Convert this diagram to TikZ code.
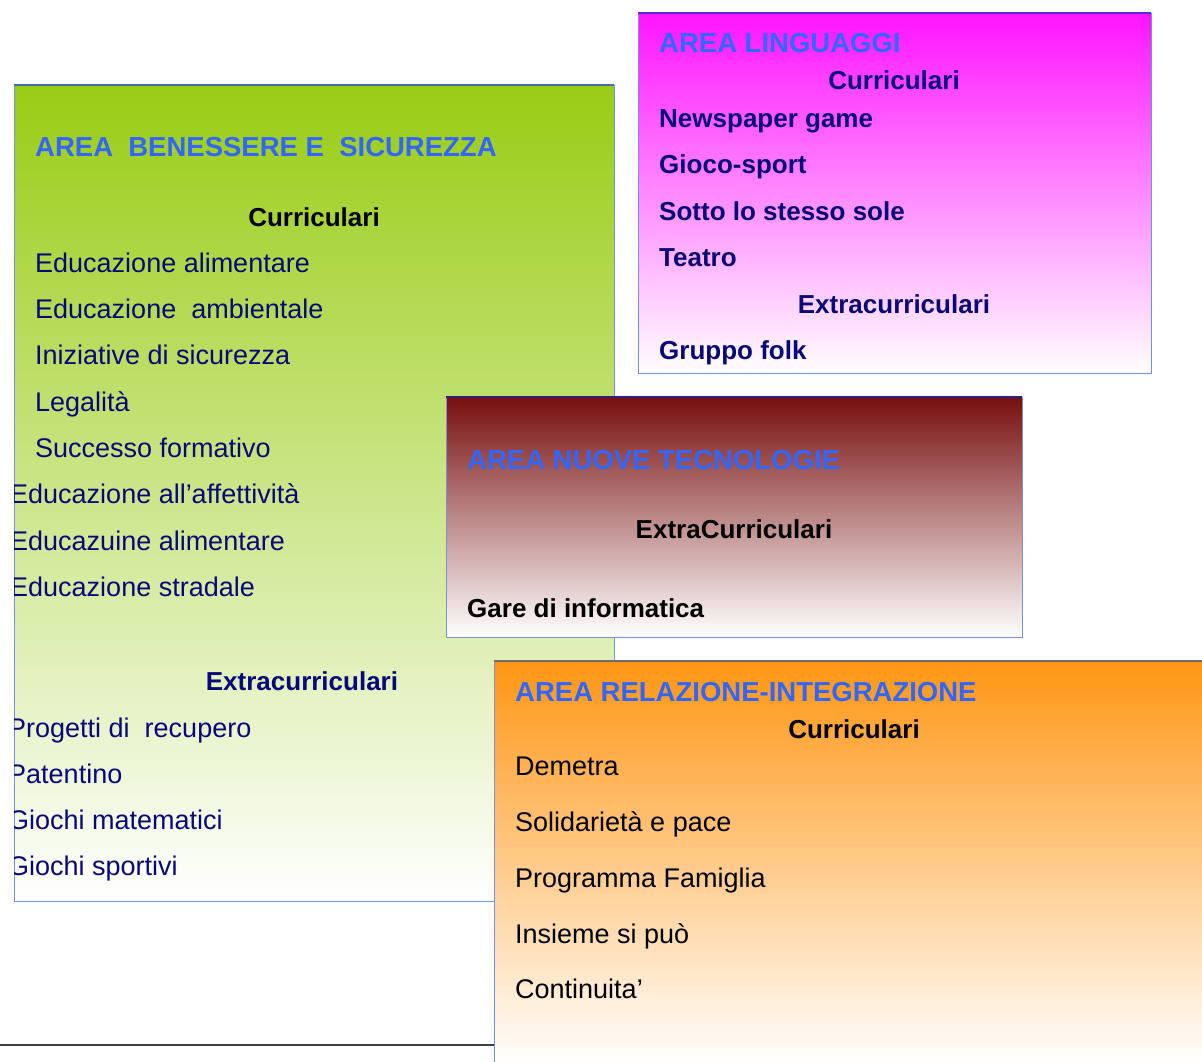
\documentclass[tikz,border=0pt]{standalone}
\usepackage{fontspec}
\setmainfont{Liberation Sans}
\definecolor{titleblue}{RGB}{51,102,255}
\definecolor{navy}{RGB}{8,8,120}
\definecolor{edgeblue}{RGB}{115,145,220}
\definecolor{greentop}{RGB}{153,204,20}
\definecolor{greenmid}{RGB}{212,233,175}
\definecolor{greenedge}{RGB}{70,110,165}
\definecolor{magtop}{RGB}{255,20,255}
\definecolor{magmid}{RGB}{255,155,255}
\definecolor{magedge}{RGB}{90,40,235}
\definecolor{redtop}{RGB}{120,16,16}
\definecolor{redmid}{RGB}{212,195,195}
\definecolor{rededge}{RGB}{50,30,130}
\definecolor{orangetop}{RGB}{255,150,20}
\definecolor{orangemid}{RGB}{255,212,182}
\definecolor{orangeedge}{RGB}{115,105,115}
\begin{document}
\begin{tikzpicture}[x=1pt,y=-1pt,
  panel/.style={draw=edgeblue, line width=0.9pt},
  topedge/.style={line width=1.1pt},
  areatitle/.style={anchor=base west, inner sep=0pt, text=titleblue,
    font=\fontsize{27.5}{30}\selectfont\bfseries},
  heading/.style={anchor=base, inner sep=0pt, font=\fontsize{26}{30}\selectfont\bfseries},
  item/.style={anchor=base west, inner sep=0pt, font=\fontsize{27}{30}\selectfont},
  bolditem/.style={anchor=base west, inner sep=0pt, font=\fontsize{26}{30}\selectfont\bfseries}
]
\useasboundingbox (0,0) rectangle (1202,1062);
\clip (0,0) rectangle (1202,1062);

% --- Area benessere e sicurezza ---
\path[panel, top color=greentop, middle color=greenmid, bottom color=white]
  (14,85) rectangle (614,901);
\draw[topedge, greenedge] (14,85) -- (614,85);
\begin{scope}
  \clip (14,85) rectangle (614,901);
  \node[areatitle] (g-title) at (35,157) {AREA\ \ BENESSERE E\ \ SICUREZZA};
  \node[heading, text=black] (g-cur) at (314,226) {Curriculari};
  \node[item, text=navy] (g-1) at (35,272) {Educazione alimentare};
  \node[item, text=navy] (g-2) at (35,318) {Educazione\ \ ambientale};
  \node[item, text=navy] (g-3) at (35,364) {Iniziative di sicurezza};
  \node[item, text=navy] (g-4) at (35,411) {Legalità};
  \node[item, text=navy] (g-5) at (35,457) {Successo formativo};
  \node[item, text=navy] (g-6) at (10,503) {Educazione all’affettività};
  \node[item, text=navy] (g-7) at (10,550) {Educazuine alimentare};
  \node[item, text=navy] (g-8) at (10,596) {Educazione stradale};
  \node[heading, text=navy] (g-extra) at (302,690) {Extracurriculari};
  \node[item, text=navy] (g-9) at (8,737) {Progetti di\ \ recupero};
  \node[item, text=navy] (g-10) at (8,783) {Patentino};
  \node[item, text=navy] (g-11) at (8,829) {Giochi matematici};
  \node[item, text=navy] (g-12) at (8,875) {Giochi sportivi};
\end{scope}

% --- Area linguaggi ---
\path[panel, top color=magtop, middle color=magmid, bottom color=white]
  (638,13) rectangle (1151,373);
\draw[topedge, magedge] (638,13) -- (1151,13);
\node[areatitle] (m-title) at (659,53) {AREA LINGUAGGI};
\node[heading, text=navy] (m-cur) at (894,90) {Curriculari};
\node[bolditem, text=navy] (m-1) at (659,128) {Newspaper game};
\node[bolditem, text=navy] (m-2) at (659,174) {Gioco-sport};
\node[bolditem, text=navy] (m-3) at (659,220) {Sotto lo stesso sole};
\node[bolditem, text=navy] (m-4) at (659,266) {Teatro};
\node[heading, text=navy] (m-extra) at (894,313) {Extracurriculari};
\node[bolditem, text=navy] (m-5) at (659,359) {Gruppo folk};

% --- Area nuove tecnologie ---
\path[panel, top color=redtop, middle color=redmid, bottom color=white]
  (446,397) rectangle (1022,637);
\draw[topedge, rededge] (446,397) -- (1022,397);
\node[areatitle] (r-title) at (467,469) {AREA NUOVE TECNOLOGIE};
\node[heading, text=black] (r-extra) at (734,538) {ExtraCurriculari};
\node[bolditem, text=black] (r-1) at (467,617) {Gare di informatica};

% --- rule along the lower edge ---
\draw[line width=2pt, draw=black!75] (0,1045) -- (494,1045);

% --- Area relazione-integrazione ---
\path[panel, top color=orangetop, middle color=orangemid, bottom color=white]
  (494,661) rectangle (1212,1064);
\draw[topedge, orangeedge] (494,661) -- (1212,661);
\node[areatitle] (o-title) at (515,701) {AREA RELAZIONE-INTEGRAZIONE};
\node[heading, text=black] (o-cur) at (854,738) {Curriculari};
\node[item, text=black] (o-1) at (515,775) {Demetra};
\node[item, text=black] (o-2) at (515,831) {Solidarietà e pace};
\node[item, text=black] (o-3) at (515,887) {Programma Famiglia};
\node[item, text=black] (o-4) at (515,943) {Insieme si può};
\node[item, text=black] (o-5) at (515,998) {Continuita’};
\end{tikzpicture}
\end{document}
